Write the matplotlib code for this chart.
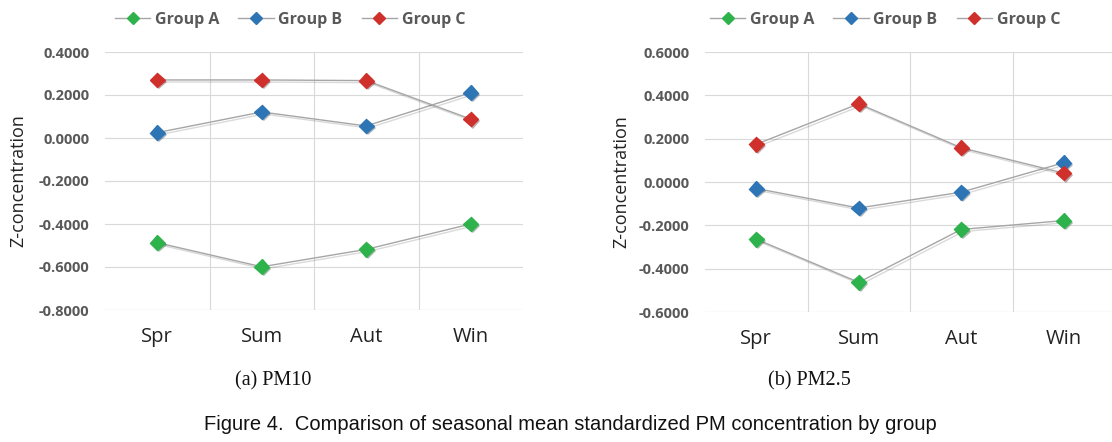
import matplotlib
matplotlib.use("Agg")
import matplotlib.pyplot as plt
import matplotlib.patheffects as pe
from matplotlib.lines import Line2D

seasons = ["Spr", "Sum", "Aut", "Win"]
groups = ["Group A", "Group B", "Group C"]
colors = ["#2eb24c", "#2e75b6", "#d0302c"]

pm10_A = [-0.487, -0.599, -0.518, -0.400]
pm10_B = [0.025, 0.121, 0.056, 0.211]
pm10_C = [0.270, 0.270, 0.267, 0.088]

pm25_A = [-0.264, -0.463, -0.219, -0.178]
pm25_B = [-0.030, -0.120, -0.047, 0.089]
pm25_C = [0.174, 0.361, 0.158, 0.041]

yticks10 = [0.4, 0.2, 0.0, -0.2, -0.4, -0.6, -0.8]
yticks25 = [0.6, 0.4, 0.2, 0.0, -0.2, -0.4, -0.6]

W, H = 1112, 442
fig = plt.figure(figsize=(W / 100, H / 100), dpi=100)

def ax_rect(l, r, t, b):
    return [l / W, 1 - b / H, (r - l) / W, (b - t) / H]

ax1 = fig.add_axes(ax_rect(105, 523, 52, 310))
ax2 = fig.add_axes(ax_rect(705, 1115, 52, 312))

def draw(ax, series, yticks, legend_cx, ypad, labelpad):
    x = range(len(seasons))
    for vals, c in zip(series, colors):
        ax.plot(x, vals, color="#a6a6a6", lw=1.0, zorder=2,
                path_effects=[pe.SimpleLineShadow(offset=(1.5, -1.5), alpha=0.15), pe.Normal()])
        ax.plot(x, vals, ls="none", marker="D", ms=7.5, mfc=c, mec=c, zorder=3,
                path_effects=[pe.SimplePatchShadow(offset=(1.5, -1.5), alpha=0.35), pe.Normal()])
    ax.set_xlim(-0.5, 3.5)
    ax.set_ylim(min(yticks), max(yticks))
    ax.set_yticks(yticks)
    ax.set_yticklabels([f"{v:.4f}" for v in yticks], fontsize=10.5, fontweight="bold",
                       color="#595959", family="Open Sans")
    ax.set_xticks(list(x))
    ax.set_xticklabels(seasons, fontsize=14.5, color="#222222", family="Open Sans")
    ax.set_xticks([0.5, 1.5, 2.5], minor=True)
    ax.grid(True, which="minor", axis="x", color="#d9d9d9", lw=0.8)
    ax.grid(True, which="major", axis="y", color="#d9d9d9", lw=0.8)
    ax.grid(False, which="major", axis="x")
    ax.tick_params(which="both", length=0)
    ax.tick_params(axis="x", pad=12)
    ax.tick_params(axis="y", pad=ypad)
    for s in ax.spines.values():
        s.set_visible(False)
    ax.axhline(min(yticks), color="#d9d9d9", lw=0.8)
    ax.set_ylabel("Z-concentration", fontsize=13, color="#222222", family="Open Sans", labelpad=labelpad)
    handles = [Line2D([0], [0], color="#a6a6a6", lw=1.0, marker="D", ms=6, mfc=c, mec=c) for c in colors]
    fig.legend(handles, groups, loc="center", bbox_to_anchor=(legend_cx / W, 1 - 20 / H),
               ncol=3, frameon=False, prop={"family": "Open Sans", "weight": "bold", "size": 11.5},
               labelcolor="#595959", handlelength=2.2, handletextpad=0.3, columnspacing=1.2)

draw(ax1, [pm10_A, pm10_B, pm10_C], yticks10, 290, 11, 8)
draw(ax2, [pm25_A, pm25_B, pm25_C], yticks25, 885, 11, 6)

fig.text(273 / W, 1 - 381 / H, "(a) PM10", ha="center", va="center", fontsize=14.5,
         family="Liberation Serif", color="#111111")
fig.text(809 / W, 1 - 381 / H, "(b) PM2.5", ha="center", va="center", fontsize=14.5,
         family="Liberation Serif", color="#111111")
fig.text(570 / W, 1 - 425 / H, "Figure 4.  Comparison of seasonal mean standardized PM concentration by group",
         ha="center", va="center", fontsize=14.5, family="Liberation Sans", color="#111111")

fig.savefig("out.png", dpi=100)
